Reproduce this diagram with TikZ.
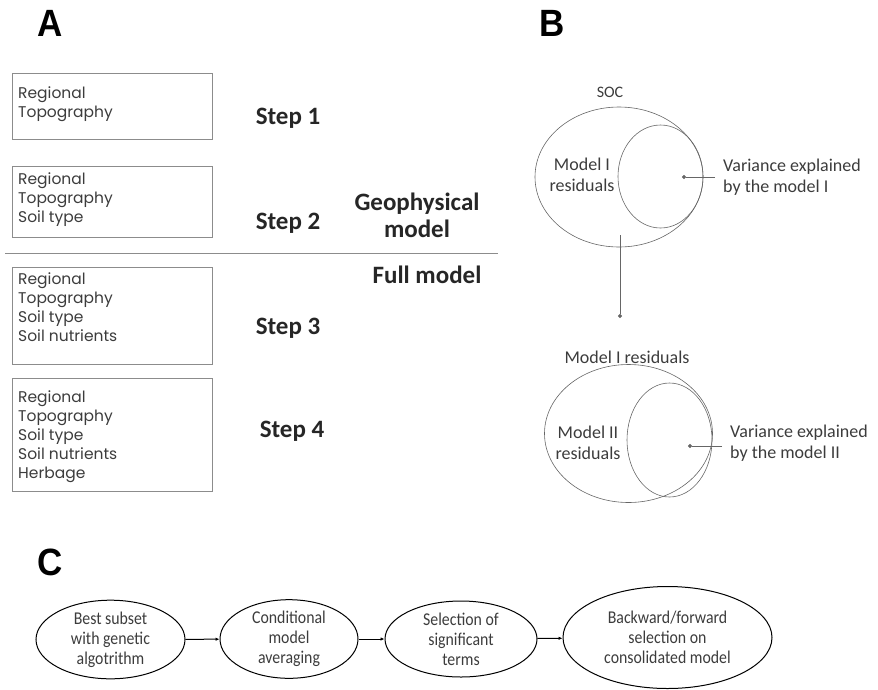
\documentclass[tikz,border=0pt]{standalone}
\usepackage{fontspec}
\usepackage{tikz}
\usetikzlibrary{arrows.meta, positioning, shapes.geometric}
\setmainfont{Carlito}
\newfontfamily\boxfont{Poppins}
\newfontfamily\narrowfont[FakeStretch=0.88]{Carlito}
\newfontfamily\letterfont[FakeStretch=0.92]{Liberation Sans}
\definecolor{boxgray}{RGB}{140,140,140}
\definecolor{txtgray}{RGB}{60,60,60}

\begin{document}
\begin{tikzpicture}[
    x=1pt, y=-1pt,
    panel_letter/.style={font=\letterfont\bfseries\fontsize{38}{38}\selectfont, inner sep=0pt},
    var_box/.style={draw=boxgray, line width=0.8pt, anchor=north west, minimum width=200pt, inner sep=0pt},
    var_text/.style={font=\boxfont\fontsize{15.5}{19}\selectfont, text=txtgray, align=left, inner sep=0pt},
    step_label/.style={font=\bfseries\fontsize{25}{27}\selectfont, text=black!85, align=center, inner sep=0pt},
    venn_outer/.style={draw=black!60, line width=0.6pt, ellipse, inner sep=0pt},
    venn_text/.style={font=\fontsize{18}{21}\selectfont, text=txtgray, align=center, inner sep=0pt},
    pointer/.style={draw=black!60, line width=0.6pt, -{Circle[length=4pt]}},
    flow_node/.style={draw=black, line width=1pt, ellipse, inner sep=0pt, font=\narrowfont\fontsize{18}{20}\selectfont, text=txtgray, align=center},
    flow_arrow/.style={draw=black, line width=1pt, -{Latex[length=4pt, width=3.5pt]}}
]
    \useasboundingbox (0,0) rectangle (878,689);

    % Panel letters
    \node[panel_letter] (lblA) at (50,23.5) {A};
    \node[panel_letter] (lblB) at (552,23.5) {B};
    \node[panel_letter] (lblC) at (50,562) {C};

    % Panel A: predictor sets
    \node[var_box, minimum height=66pt] (set1) at (12,73) {};
    \node[var_text, below right=13pt and 6pt of set1.north west] (set1_txt) {Regional\\Topography};

    \node[var_box, minimum height=71pt] (set2) at (12,166) {};
    \node[var_text, below right=6pt and 6pt of set2.north west] (set2_txt) {Regional\\Topography\\Soil type};

    \node[var_box, minimum height=97pt] (set3) at (12,267) {};
    \node[var_text, below right=5pt and 6pt of set3.north west] (set3_txt) {Regional\\Topography\\Soil type\\Soil nutrients};

    \node[var_box, minimum height=113pt] (set4) at (12,378) {};
    \node[var_text, below right=12pt and 6pt of set4.north west] (set4_txt) {Regional\\Topography\\Soil type\\Soil nutrients\\Herbage};

    \node[step_label] (step1) at (288,118) {Step 1};
    \node[step_label] (step2) at (288,223) {Step 2};
    \node[step_label] (step3) at (288,328) {Step 3};
    \node[step_label] (step4) at (292,431) {Step 4};

    \node[step_label] (geo) at (417,215) {Geophysical\\model};
    \node[step_label] (full) at (427,275) {Full model};

    % Divider between the two models
    \coordinate (div_l) at (5,253);
    \coordinate (div_r) at (498,253);
    \draw[boxgray, line width=0.8pt] (div_l) -- (div_r);

    % Panel B: variance partition
    \node[venn_text, font=\fontsize{16}{18}\selectfont] (soc) at (610,92) {SOC};
    \node[venn_outer, minimum width=168pt, minimum height=140pt] (soc_all) at (619,177) {};
    \node[venn_outer, minimum width=85pt, minimum height=103pt] (expl1) at (660.5,176.5) {};
    \node[venn_text] (res1) at (582,175) {Model I\\residuals};
    \node[venn_text, anchor=west, align=left] (var1) at (723,177) {Variance explained\\by the model I};
    \coordinate (dot1) at (682,177);
    \draw[pointer] ([xshift=-8pt]var1.west) -- (dot1);

    \coordinate (step_end) at (620,318);
    \draw[pointer] ([xshift=1pt, yshift=12pt]soc_all.south) -- (step_end);

    \node[venn_text] (res1_top) at (627,357) {Model I residuals};
    \node[venn_outer, minimum width=168pt, minimum height=138pt] (res_all) at (628.5,433.5) {};
    \node[venn_outer, minimum width=85pt, minimum height=114pt] (expl2) at (669.5,440) {};
    \node[venn_text] (res2) at (588,443) {Model II\\residuals};
    \node[venn_text, anchor=west, align=left] (var2) at (730,443) {Variance explained\\by the model II};
    \coordinate (dot2) at (688,446);
    \draw[pointer] ([xshift=-8pt]var2.west |- dot2) -- (dot2);

    % Panel C: selection workflow
    \node[flow_node, minimum width=149pt, minimum height=75pt] (ga) at (110.5,639.5) {Best subset\\with genetic\\algotrithm};
    \node[flow_node, minimum width=138pt, minimum height=78pt] (avg) at (289,639) {Conditional\\model\\averaging};
    \node[flow_node, minimum width=152pt, minimum height=76pt] (sig) at (461,639) {Selection of\\significant\\terms};
    \node[flow_node, minimum width=209pt, minimum height=102pt] (bwfw) at (667.5,637.5) {Backward/forward\\selection on\\consolidated model};

    \draw[flow_arrow] (ga) -- (avg);
    \draw[flow_arrow] (avg) -- (sig);
    \draw[flow_arrow] (sig) -- (bwfw);

\end{tikzpicture}
\end{document}
